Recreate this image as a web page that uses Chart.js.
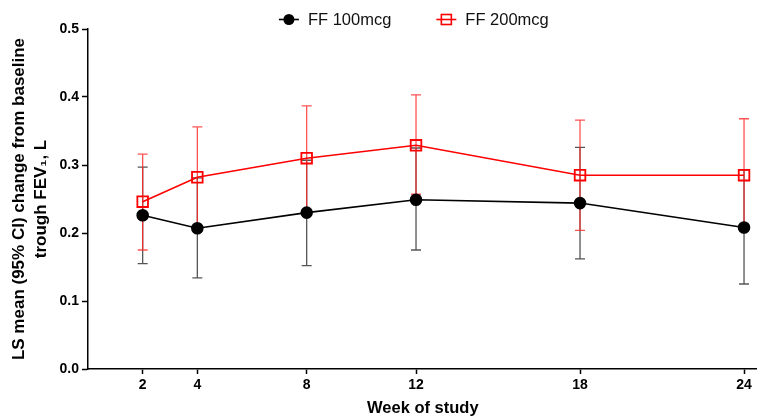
<!DOCTYPE html>
<html>
<head>
<meta charset="utf-8">
<script src="https://cdn.jsdelivr.net/npm/chart.js@4"></script>
<style>
  html, body { margin: 0; padding: 0; background: #fff; overflow: hidden; }
  /* a bit wider than the window: Chart.js keeps ~10px spare on the right */
  #wrap { width: 767px; height: 418px; }
</style>
</head>
<body>
<div id="wrap"><canvas id="fevChart"></canvas></div>
<script>
// week of study (x) and LS mean change with 95% CI
const weeks = [2, 4, 8, 12, 18, 24];
const seriesLabels = ['FF 100mcg', 'FF 200mcg'];
const ff100Mean  = [0.226, 0.207, 0.230, 0.249, 0.244, 0.208];
const ff100Lower = [0.155, 0.134, 0.152, 0.175, 0.162, 0.125];
const ff100Upper = [0.297, 0.281, 0.307, 0.325, 0.326, 0.293];
const ff200Mean  = [0.246, 0.282, 0.310, 0.329, 0.285, 0.285];
const ff200Lower = [0.175, 0.209, 0.234, 0.257, 0.204, 0.203];
const ff200Upper = [0.316, 0.356, 0.387, 0.403, 0.366, 0.368];
const yTicks = [0, 0.1, 0.2, 0.3, 0.4, 0.5];

const FONT = "'Liberation Sans', Arial, sans-serif";

function toPoints(values) {
  return weeks.map((w, i) => ({ x: w, y: values[i] }));
}

// draws the CI whiskers under the lines
const errorBars = {
  id: 'errorBars',
  beforeDatasetsDraw(chart) {
    const ctx = chart.ctx;
    const xs = chart.scales.x;
    const ys = chart.scales.y;
    // black first so the red bars sit on top
    [1, 0].forEach(idx => {
      const ds = chart.data.datasets[idx];
      ctx.save();
      ctx.strokeStyle = ds.errorColor;
      ctx.lineWidth = 1.3;
      ds.data.forEach((p, i) => {
        const x = xs.getPixelForValue(p.x);
        const top = ys.getPixelForValue(ds.upper[i]);
        const bot = ys.getPixelForValue(ds.lower[i]);
        ctx.beginPath();
        ctx.moveTo(x, top); ctx.lineTo(x, bot);
        ctx.moveTo(x - 5, top); ctx.lineTo(x + 5, top);
        ctx.moveTo(x - 5, bot); ctx.lineTo(x + 5, bot);
        ctx.stroke();
      });
      ctx.restore();
    });
  }
};

// legend with line through marker, like the original
const lineLegend = {
  id: 'lineLegend',
  afterDraw(chart) {
    const ctx = chart.ctx;
    const area = chart.chartArea;
    const order = [1, 0];
    ctx.save();
    ctx.font = '16.5px ' + FONT;
    ctx.textBaseline = 'middle';
    const markW = 20, gap = 9, spacing = 45;
    const widths = order.map(i => markW + gap + ctx.measureText(chart.data.datasets[i].label).width);
    const total = widths.reduce((a, b) => a + b, 0) + spacing;
    let x = (area.left + area.right) / 2 - 9 - total / 2;
    const y = 19.5;
    order.forEach((i, k) => {
      const ds = chart.data.datasets[i];
      ctx.strokeStyle = ds.borderColor;
      ctx.lineWidth = 1.6;
      ctx.beginPath();
      ctx.moveTo(x, y); ctx.lineTo(x + markW, y);
      ctx.stroke();
      const cx = x + markW / 2;
      if (ds.pointStyle === 'circle') {
        ctx.fillStyle = ds.borderColor;
        ctx.beginPath();
        ctx.arc(cx, y, 5.5, 0, Math.PI * 2);
        ctx.fill();
      } else {
        ctx.strokeRect(cx - 5, y - 5, 10, 10);
      }
      ctx.fillStyle = '#111';
      ctx.fillText(ds.label, x + markW + gap, y + 1);
      x += widths[k] + spacing;
    });
    ctx.restore();
  }
};

const ctx = document.getElementById('fevChart').getContext('2d');

new Chart(ctx, {
  type: 'line',
  data: {
    datasets: [
      {
        label: seriesLabels[1],
        data: toPoints(ff200Mean),
        lower: ff200Lower,
        upper: ff200Upper,
        errorColor: 'rgba(255, 40, 40, 0.8)',
        borderColor: '#ff0000',
        borderWidth: 1.6,
        pointStyle: 'rect',
        pointRadius: 7.5,
        pointBorderWidth: 1.8,
        pointBackgroundColor: 'rgba(255,255,255,0)',
        pointBorderColor: '#ff0000',
        order: 0
      },
      {
        label: seriesLabels[0],
        data: toPoints(ff100Mean),
        lower: ff100Lower,
        upper: ff100Upper,
        errorColor: '#555',
        borderColor: '#000',
        borderWidth: 1.6,
        pointStyle: 'circle',
        pointRadius: 5.5,
        pointBackgroundColor: '#000',
        pointBorderColor: '#000',
        order: 1
      }
    ]
  },
  options: {
    responsive: true,
    maintainAspectRatio: false,
    animation: false,
    layout: { padding: { top: 29, right: 0, bottom: 0, left: 0 } },
    plugins: {
      legend: { display: false },
      tooltip: { enabled: false }
    },
    scales: {
      x: {
        type: 'linear',
        min: 0,
        max: 24.5,
        afterBuildTicks: s => { s.ticks = weeks.map(v => ({ value: v })); },
        afterFit: s => { s.height = 49; },
        border: { color: '#000', width: 1.5 },
        grid: { drawOnChartArea: false, tickLength: 5, color: '#000', tickWidth: 1.5 },
        ticks: { color: '#000', padding: 3, maxRotation: 0, font: { family: FONT, size: 14, weight: 'bold' } },
        title: {
          display: true,
          text: 'Week of study',
          color: '#000',
          padding: { top: 0, bottom: 0 },
          font: { family: FONT, size: 16.5, weight: 'bold' }
        }
      },
      y: {
        min: 0,
        max: 0.5,
        afterBuildTicks: s => { s.ticks = yTicks.map(v => ({ value: v })); },
        afterFit: s => { s.width = 88; },
        border: { color: '#000', width: 1.5 },
        grid: { drawOnChartArea: false, tickLength: 6, color: '#000', tickWidth: 1.5 },
        ticks: { color: '#000', padding: 3, font: { family: FONT, size: 14, weight: 'bold' }, callback: v => v.toFixed(1) },
        title: {
          display: true,
          text: ['LS mean (95% CI) change from baseline', 'trough FEV\u2081, L'],
          color: '#000',
          padding: { top: 9, bottom: 0 },
          font: { family: FONT, size: 17, weight: 'bold', lineHeight: 1.25 }
        }
      }
    }
  },
  plugins: [errorBars, lineLegend]
});
</script>
</body>
</html>
